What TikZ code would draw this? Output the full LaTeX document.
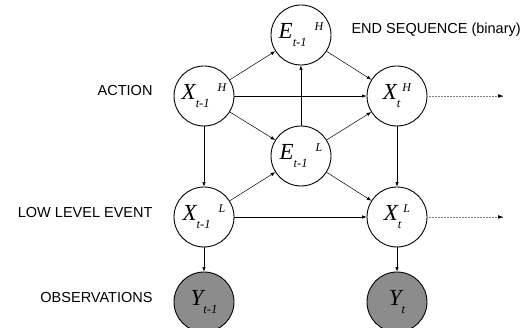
\documentclass[tikz,border=0pt]{standalone}
\usepackage{fontspec}
\setmainfont{Liberation Serif}
\newfontfamily\labfont{Liberation Sans}
\usetikzlibrary{arrows.meta}
\newcommand{\varlab}[4]{{\fontsize{23}{23}\selectfont\itshape #1}\raisebox{-8.5pt}{\fontsize{12.5}{12.5}\selectfont\itshape #2}\hspace{#4}\raisebox{7.5pt}{\fontsize{12}{12}\selectfont\itshape #3}}
\begin{document}
\begin{tikzpicture}[x=1pt,y=-1pt,
  var/.style={circle,draw,line width=0.9pt,minimum size=60pt,inner sep=0pt},
  obs/.style={var,fill=black!45},
  rowlab/.style={font=\labfont\fontsize{14.5}{17}\selectfont,anchor=east},
  edge/.style={-{Latex[length=4.5pt,width=3.5pt]},line width=0.5pt},
  fwd/.style={edge,densely dotted,draw=black!55}]
\useasboundingbox (0,0) rectangle (530,328);
\node[var] (xh1) at (204,96) {\varlab{X}{t-1}{H}{8pt}};
\node[var] (eh) at (301,35) {\varlab{E}{t-1}{H}{8pt}};
\node[var] (xht) at (397,96) {\varlab{X}{t}{H}{2pt}};
\node[var] (el) at (301,156) {\varlab{E}{t-1}{L}{8pt}};
\node[var] (xl1) at (204,217) {\varlab{X}{t-1}{L}{8pt}};
\node[var] (xlt) at (397,217) {\varlab{X}{t}{L}{2pt}};
\node[obs] (y1) at (204,302) {\varlab{Y}{t-1}{}{0pt}};
\node[obs] (yt) at (397,302) {\varlab{Y}{t}{}{0pt}};
\node[rowlab] (lact) at (156,91) {ACTION};
\node[rowlab] (llow) at (156,213) {LOW LEVEL EVENT};
\node[rowlab] (lobs) at (156,298) {OBSERVATIONS};
\node[font=\labfont\fontsize{14.5}{17}\selectfont,anchor=west] (lend) at (348,30) {END SEQUENCE (binary)};
\coordinate (fh) at (503,96);
\coordinate (fl) at (503,217);
\draw[edge] (xh1) -- (eh);
\draw[edge,line width=0.7pt] (xh1) -- (xht);
\draw[edge] (xh1) -- (el);
\draw[edge] (xh1) -- (xl1);
\draw[edge] (eh) -- (xht);
\draw[edge] (el) -- (eh);
\draw[edge] (el) -- (xht);
\draw[edge] (el) -- (xlt);
\draw[edge] (xl1) -- (el);
\draw[edge] (xl1) -- (xlt);
\draw[edge] (xht) -- (xlt);
\draw[edge] (xl1) -- (y1);
\draw[edge] (xlt) -- (yt);
\draw[densely dotted,draw=black!50,line width=0.5pt] (xht) -- (fh);
\draw[densely dotted,draw=black!50,line width=0.5pt] (xlt) -- (fl);
\fill (fh) -- ++(-5,-1.8) -- ++(0,3.6) -- cycle;
\fill (fl) -- ++(-5,-1.8) -- ++(0,3.6) -- cycle;
\end{tikzpicture}
\end{document}
